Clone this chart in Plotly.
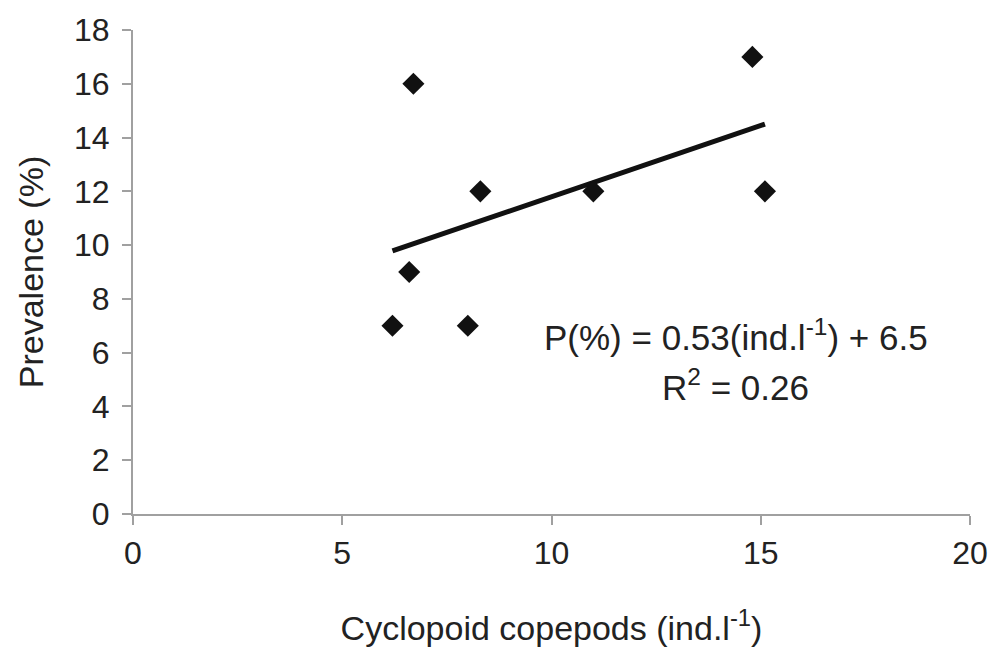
import plotly.graph_objects as go

# Data
copepods = [6.2, 6.6, 6.7, 8.0, 8.3, 11.0, 14.8, 15.1]
prevalence = [7, 9, 16, 7, 12, 12, 17, 12]

# Regression shown on the chart: P(%) = 0.53(ind.l-1) + 6.5, R^2 = 0.26
slope = 0.53
intercept = 6.5
trend_x = [6.2, 15.1]
trend_y = [slope * v + intercept for v in trend_x]

x_ticks = [0, 5, 10, 15, 20]
y_ticks = [0, 2, 4, 6, 8, 10, 12, 14, 16, 18]

FONT = "Liberation Sans, Arial, sans-serif"
TXT = "#222222"
AX = "#a0a0a0"

fig = go.Figure()
fig.add_trace(go.Scatter(
    x=trend_x, y=trend_y, mode="lines",
    line=dict(color="#111111", width=5),
    showlegend=False, hoverinfo="skip",
))
fig.add_trace(go.Scatter(
    x=copepods, y=prevalence, mode="markers",
    marker=dict(symbol="diamond", size=17, color="#111111"),
    showlegend=False,
))

fig.add_annotation(
    x=14.4, y=6.65, xref="x", yref="y",
    text="P(%) = 0.53(ind.l<sup>-1</sup>) + 6.5",
    showarrow=False, xanchor="center", yanchor="middle",
    font=dict(family=FONT, size=35, color=TXT),
)
fig.add_annotation(
    x=14.4, y=4.78, xref="x", yref="y",
    text="R<sup>2</sup> = 0.26",
    showarrow=False, xanchor="center", yanchor="middle",
    font=dict(family=FONT, size=35, color=TXT),
)

fig.update_layout(
    width=994, height=650,
    margin=dict(l=133, r=24, t=30, b=136),
    paper_bgcolor="white", plot_bgcolor="white",
    font=dict(family=FONT, color=TXT),
    showlegend=False,
)
fig.update_xaxes(
    range=[0, 20], tickvals=x_ticks, ticktext=[str(v) for v in x_ticks],
    showgrid=False, zeroline=False,
    showline=True, linecolor=AX, linewidth=2,
    ticks="outside", ticklen=9, tickwidth=1.5, tickcolor=AX,
    tickfont=dict(family=FONT, size=32, color=TXT),
    ticklabelstandoff=1,
    title=dict(text="Cyclopoid copepods (ind.l<sup>-1</sup>)",
               font=dict(family=FONT, size=34, color=TXT), standoff=46),
    automargin=False,
)
fig.update_yaxes(
    range=[0, 18], tickvals=y_ticks, ticktext=[str(v) for v in y_ticks],
    showgrid=False, zeroline=False,
    showline=True, linecolor=AX, linewidth=2,
    ticks="outside", ticklen=9, tickwidth=1.5, tickcolor=AX,
    tickfont=dict(family=FONT, size=32, color=TXT),
    ticklabelstandoff=6,
    title=dict(text="Prevalence (%)",
               font=dict(family=FONT, size=34, color=TXT), standoff=20),
    automargin=False,
)

fig.write_html("out.html")
